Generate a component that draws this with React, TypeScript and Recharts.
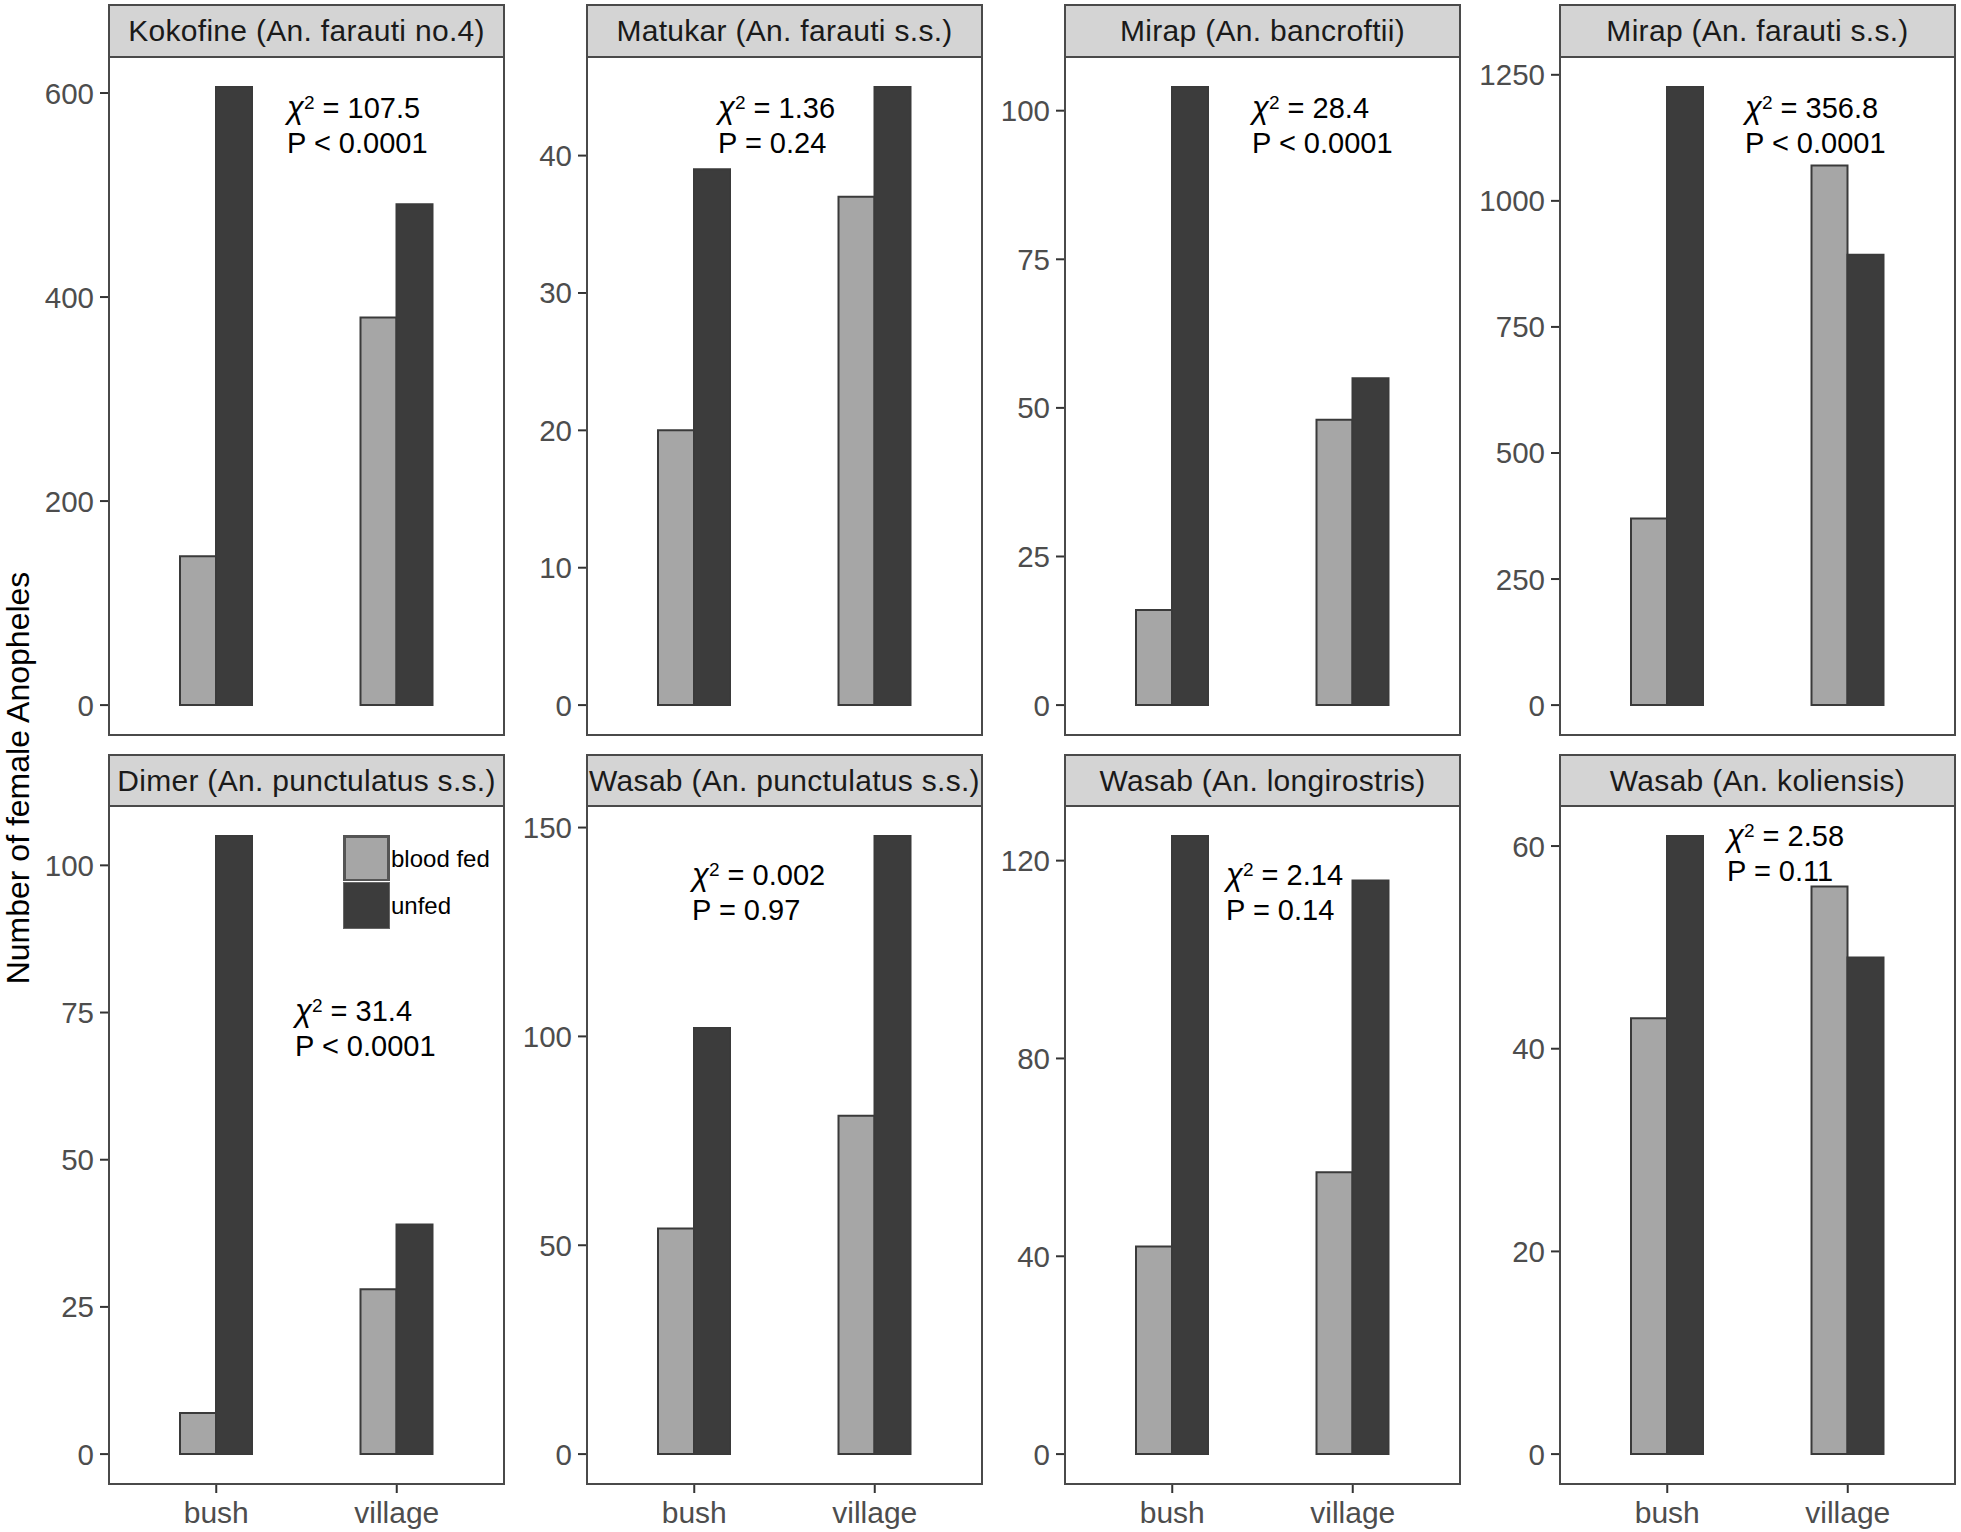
import React from "react";
import { BarChart, Bar, XAxis, YAxis, Legend } from "recharts";

// categories
const sites = ["bush", "village"];

const panelTitles = [
  "Kokofine (An. farauti no.4)",
  "Matukar (An. farauti s.s.)",
  "Mirap (An. bancroftii)",
  "Mirap (An. farauti s.s.)",
  "Dimer (An. punctulatus s.s.)",
  "Wasab (An. punctulatus s.s.)",
  "Wasab (An. longirostris)",
  "Wasab (An. koliensis)",
];

// [bush, village] per panel
const bloodFed = [
  [146, 380],
  [20, 37],
  [16, 48],
  [370, 1070],
  [7, 28],
  [54, 81],
  [42, 57],
  [43, 56],
];
const unfed = [
  [606, 491],
  [39, 45],
  [104, 55],
  [1226, 893],
  [105, 39],
  [102, 148],
  [125, 116],
  [61, 49],
];

const yTicks = [
  [0, 200, 400, 600],
  [0, 10, 20, 30, 40],
  [0, 25, 50, 75, 100],
  [0, 250, 500, 750, 1000, 1250],
  [0, 25, 50, 75, 100],
  [0, 50, 100, 150],
  [0, 40, 80, 120],
  [0, 20, 40, 60],
];

const chiSq = ["107.5", "1.36", "28.4", "356.8", "31.4", "0.002", "2.14", "2.58"];
const pText = [
  "P < 0.0001",
  "P = 0.24",
  "P < 0.0001",
  "P < 0.0001",
  "P < 0.0001",
  "P = 0.97",
  "P = 0.14",
  "P = 0.11",
];

// layout (px)
const FONT = '"Liberation Sans", Arial, Helvetica, sans-serif';
const PANEL_LEFT = [108, 586, 1064, 1559];
const STRIP_TOP = [4, 754];
const PLOT_TOP = [56, 805];
const PANEL_W = 397;
const PLOT_H = 680;
const AXIS_W = 100;
const X_AXIS_H = 50;
// annotation offsets: [dx from panel left, first line centre from strip top]
const annotPos = [
  [179, 103],
  [132, 103],
  [188, 103],
  [186, 103],
  [187, 256],
  [106, 120],
  [162, 120],
  [168, 81],
];

const FED_FILL = "#A6A6A6";
const UNFED_FILL = "#3C3C3C";
const LINE = "#3a3a3a";

function LegendBox({ payload }: any) {
  return (
    <div style={{ fontFamily: FONT }}>
      {(payload || []).map((p: any, k: number) => (
        <div key={k} style={{ display: "flex", alignItems: "center", height: 47 }}>
          <div
            style={{
              width: 47,
              height: 47,
              boxSizing: "border-box",
              background: p.color,
              border: `${k === 0 ? 3 : 1}px solid ${k === 0 ? "#555" : "#666"}`,
              outline: "1px solid #fff",
            }}
          />
          <span style={{ fontSize: 24, color: "#000", marginLeft: 1 }}>{p.value}</span>
        </div>
      ))}
    </div>
  );
}

function Panel({ i }: { i: number }) {
  const col = i % 4;
  const row = Math.floor(i / 4);
  const left = PANEL_LEFT[col];
  const stripTop = STRIP_TOP[row];
  const plotTop = PLOT_TOP[row];
  const bottomRow = row === 1;
  const data = sites.map((s, k) => ({ site: s, fed: bloodFed[i][k], unfed: unfed[i][k] }));
  const max = Math.max(...bloodFed[i], ...unfed[i]);
  const chartH = PLOT_H + (bottomRow ? X_AXIS_H : 0);
  const [ax, ay] = annotPos[i];

  return (
    <>
      <div
        style={{
          position: "absolute",
          left,
          top: stripTop,
          width: PANEL_W,
          height: plotTop - stripTop,
          boxSizing: "border-box",
          background: "#D4D4D4",
          border: "2px solid #4a4a4a",
          borderBottom: "none",
          display: "flex",
          alignItems: "center",
          justifyContent: "center",
          fontFamily: FONT,
          fontSize: 30,
          letterSpacing: 0.3,
          color: "#1A1A1A",
          whiteSpace: "nowrap",
        }}
      >
        {panelTitles[i]}
      </div>
      <div style={{ position: "absolute", left: left - AXIS_W, top: plotTop }}>
        <BarChart
          width={AXIS_W + PANEL_W}
          height={chartH}
          data={data}
          margin={{ top: 0, right: 0, bottom: 0, left: 0 }}
          barGap={0}
          barSize={36}
        >
          <XAxis
            dataKey="site"
            hide={!bottomRow}
            height={X_AXIS_H}
            padding={{ left: 18, right: 18 }}
            axisLine={false}
            tickSize={8}
            tickMargin={9}
            tickLine={{ stroke: "#333", strokeWidth: 2 }}
            tick={{ fontSize: 30, fill: "#4D4D4D", fontFamily: FONT }}
          />
          <YAxis
            type="number"
            domain={[-0.05 * max, 1.05 * max]}
            allowDataOverflow
            ticks={yTicks[i]}
            width={AXIS_W}
            axisLine={false}
            tickSize={8}
            tickMargin={6}
            tickLine={{ stroke: "#333", strokeWidth: 2 }}
            tick={{ fontSize: 29.5, fill: "#4D4D4D", fontFamily: FONT }}
          />
          <Bar
            dataKey="fed"
            name="blood fed"
            fill={FED_FILL}
            stroke={LINE}
            strokeWidth={2}
            isAnimationActive={false}
          />
          <Bar
            dataKey="unfed"
            name="unfed"
            fill={UNFED_FILL}
            stroke={LINE}
            strokeWidth={2}
            isAnimationActive={false}
          />
          {i === 4 && (
            <Legend
              layout="vertical"
              align="center"
              verticalAlign="middle"
              wrapperStyle={{ left: 335, top: 30, width: 160 }}
              content={<LegendBox />}
            />
          )}
        </BarChart>
      </div>
      <div
        style={{
          position: "absolute",
          left,
          top: plotTop,
          width: PANEL_W,
          height: PLOT_H,
          boxSizing: "border-box",
          border: "2px solid #4a4a4a",
          pointerEvents: "none",
        }}
      />
      <div
        style={{
          position: "absolute",
          left: left + ax,
          top: stripTop + ay - 17.5,
          fontFamily: FONT,
          fontSize: 29,
          lineHeight: "35px",
          color: "#000",
          whiteSpace: "nowrap",
        }}
      >
        <div>
          <i style={{ fontSize: 31 }}>χ</i>
          <sup style={{ fontSize: 19, lineHeight: 0, verticalAlign: "9px" }}>2</sup>
          {" = " + chiSq[i]}
        </div>
        <div>{pText[i]}</div>
      </div>
    </>
  );
}

export default function App() {
  return (
    <div
      style={{
        position: "absolute",
        left: 0,
        top: 0,
        width: 1961,
        height: 1532,
        background: "#fff",
        overflow: "hidden",
      }}
    >
      {panelTitles.map((_, i) => (
        <Panel key={i} i={i} />
      ))}
      <div
        style={{
          position: "absolute",
          left: 1,
          top: 778,
          transform: "translateY(-50%) rotate(180deg)",
          writingMode: "vertical-rl",
          fontFamily: FONT,
          fontSize: 32,
          lineHeight: "34px",
          color: "#000",
          whiteSpace: "nowrap",
        }}
      >
        Number of female Anopheles
      </div>
    </div>
  );
}
